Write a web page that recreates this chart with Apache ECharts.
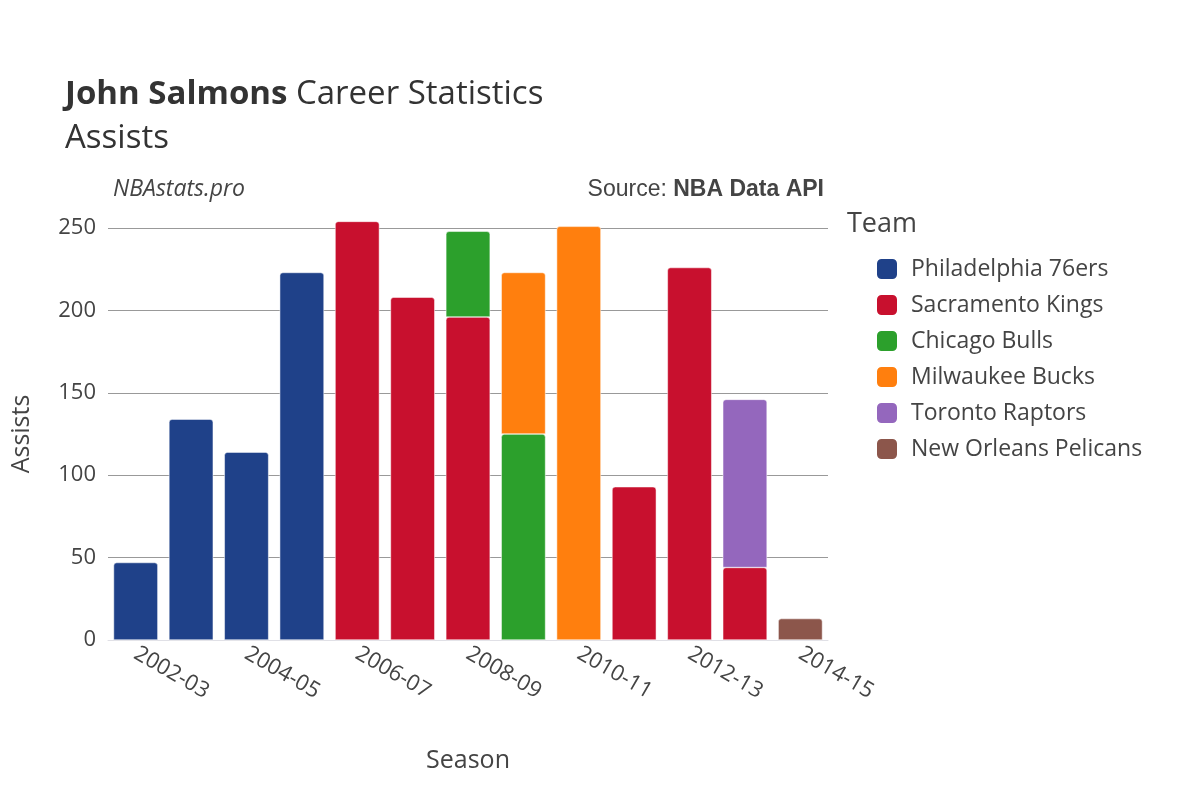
<!DOCTYPE html>
<html>
<head>
<meta charset="utf-8">
<script src="https://cdn.jsdelivr.net/npm/echarts@6/dist/echarts.min.js"></script>
<style>html,body{margin:0;padding:0;background:#fff}#chart{width:1200px;height:800px}</style>
</head>
<body>
<div id="chart"></div>
<script>
const seasons = ['2002-03','2003-04','2004-05','2005-06','2006-07','2007-08','2008-09','2009-10','2010-11','2011-12','2012-13','2013-14','2014-15'];
const teams = ['Philadelphia 76ers','Sacramento Kings','Chicago Bulls','Milwaukee Bucks','Toronto Raptors','New Orleans Pelicans'];
const colors = ['#1f4189','#c8102e','#2ca02c','#ff7f0e','#9467bd','#8c564b'];
const phi = [47,134,114,223,null,null,null,null,null,null,null,null,null];
const sac = [null,null,null,null,254,208,196,null,null,93,226,44,null];
const chi = [null,null,null,null,null,null,52,125,null,null,null,null,null];
const mil = [null,null,null,null,null,null,null,98,251,null,null,null,null];
const tor = [null,null,null,null,null,null,null,null,null,null,null,102,null];
const nop = [null,null,null,null,null,null,null,null,null,null,null,null,13];
const values = [phi,sac,chi,mil,tor,nop];

const chart = echarts.init(document.getElementById('chart'));
const font = 'Open Sans, DejaVu Sans, sans-serif';

chart.setOption({
  animation: false,
  textStyle: { fontFamily: font },
  title: [
    { text: '{b|John Salmons} Career Statistics\nAssists', left: 60, top: 68,
      textStyle: { fontSize: 33, color: '#333', fontWeight: 'normal', lineHeight: 44,
        rich: { b: { fontSize: 33, fontWeight: 'bold', color: '#333' } } } }
  ],
  graphic: [
    { type: 'text', left: 113, top: 178, style: { text: 'NBAstats.pro', fontSize: 23, fontStyle: 'italic', fill: '#444', fontFamily: font } },
    { type: 'text', right: 376, top: 178, style: { text: '{n|Source: }{b|NBA Data API}', fontSize: 23, fill: '#444', fontFamily: font,
      rich: { n: { fontSize: 23, fill: '#444' }, b: { fontSize: 23, fontWeight: 'bold', fill: '#444' } } } },
    { type: 'text', left: 847, top: 211, style: { text: 'Team', fontSize: 27, fill: '#444', fontFamily: font } }
  ],
  legend: {
    orient: 'vertical', left: 870, top: 252, itemGap: 12, itemWidth: 22, itemHeight: 22,
    icon: 'roundRect', data: teams,
    textStyle: { fontSize: 23, color: '#444', padding: [0, 0, 0, 8] }
  },
  grid: { left: 108, right: 372, top: 228, bottom: 160 },
  xAxis: {
    type: 'category', data: seasons,
    name: 'Season', nameLocation: 'middle', nameGap: 108,
    nameTextStyle: { fontSize: 25, color: '#444' },
    axisLine: { show: true, lineStyle: { color: '#e0e0e6' } }, axisTick: { show: false },
    axisLabel: { rotate: -30, fontSize: 22, color: '#444', margin: 12, align: 'left' }
  },
  yAxis: {
    type: 'value', min: 0, max: 250, interval: 50,
    name: 'Assists', nameLocation: 'middle', nameGap: 74,
    nameTextStyle: { fontSize: 25, color: '#444' },
    axisLabel: { fontSize: 22, color: '#444', margin: 12 },
    splitLine: { lineStyle: { color: '#999' } }
  },
  series: teams.map((t, i) => ({
    name: t, type: 'bar', stack: 'all', data: values[i], barWidth: '80%', clip: false,
    itemStyle: { color: colors[i], borderRadius: [3, 3, 0, 0], borderColor: '#fff', borderWidth: 0.5 }
  }))
});
</script>
</body>
</html>
